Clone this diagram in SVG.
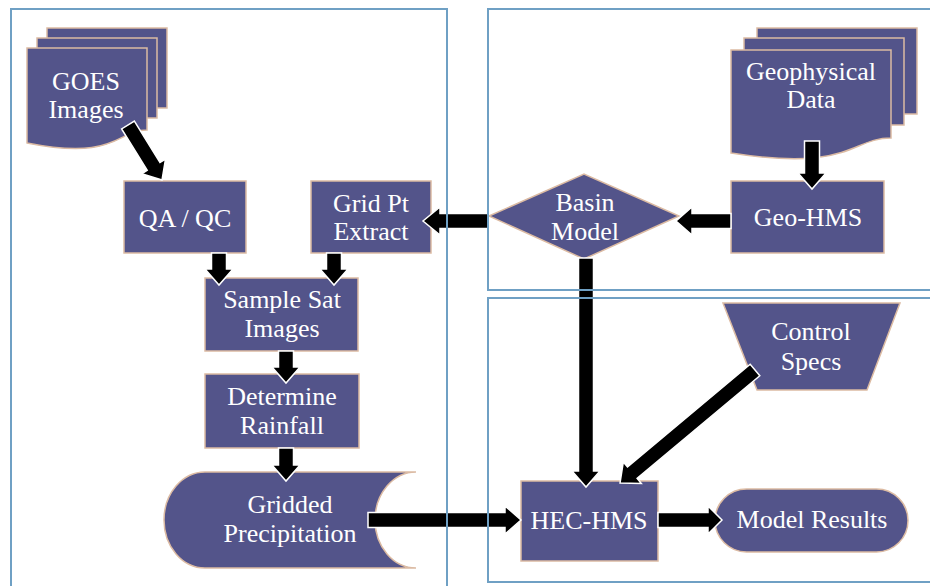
<svg xmlns="http://www.w3.org/2000/svg" width="930" height="586" viewBox="0 0 930 586">
<style>
.n{fill:#53548a;stroke:#dcbba3;stroke-width:1.5}
.t{font-family:"Liberation Serif","Times New Roman",serif;font-size:26px;fill:#ffffff;text-anchor:middle}
.a{fill:#000000;stroke:#ffffff;stroke-width:1.5;stroke-linejoin:miter}
.p{fill:none;stroke:#6fa0c4;stroke-width:2}
</style>
<rect width="930" height="586" fill="#ffffff"/>
<g id="goes">
<rect class="n" x="47" y="28" width="120" height="80"/>
<rect class="n" x="37" y="38" width="120" height="80"/>
<path class="n" d="M27,48 H147 V130 C117,130 117,161 27,143 Z"/>
<text class="t" x="86" y="90">GOES</text>
<text class="t" x="86" y="118">Images</text>
</g>
<g id="qaqc">
<rect class="n" x="124" y="181" width="122" height="72"/>
<text class="t" x="185" y="227">QA / QC</text>
</g>
<g id="gridpt">
<rect class="n" x="311" y="181" width="120" height="72"/>
<text class="t" x="371" y="212">Grid Pt</text>
<text class="t" x="371" y="240">Extract</text>
</g>
<g id="sample">
<rect class="n" x="205" y="278" width="153" height="73"/>
<text class="t" x="282" y="308">Sample Sat</text>
<text class="t" x="282" y="337">Images</text>
</g>
<g id="determine">
<rect class="n" x="205" y="374" width="154" height="74"/>
<text class="t" x="282" y="405">Determine</text>
<text class="t" x="282" y="434">Rainfall</text>
</g>
<g id="gridded">
<path class="n" d="M205,472 H416 A41,48 0 0 0 416,568 H205 A41,48 0 0 1 205,472 Z"/>
<text class="t" x="290" y="513">Gridded</text>
<text class="t" x="290" y="542">Precipitation</text>
</g>
<g id="geophysical">
<rect class="n" x="757" y="28" width="160" height="86"/>
<rect class="n" x="744" y="38" width="160" height="87"/>
<path class="n" d="M731,50 H891 V138 C851,138 851,172 731,153 Z"/>
<text class="t" x="811" y="80">Geophysical</text>
<text class="t" x="811" y="108">Data</text>
</g>
<g id="geohms">
<rect class="n" x="731" y="181" width="153" height="72"/>
<text class="t" x="808" y="226">Geo-HMS</text>
</g>
<g id="basin">
<path class="n" d="M489,216 L584,174 L679,216 L584,259 Z"/>
<text class="t" x="585" y="211">Basin</text>
<text class="t" x="585" y="240">Model</text>
</g>
<g id="control">
<path class="n" d="M723,303 H900 L867,390 H757 Z"/>
<text class="t" x="811" y="340">Control</text>
<text class="t" x="811" y="370">Specs</text>
</g>
<g id="hechms">
<rect class="n" x="521" y="481" width="137" height="80"/>
<text class="t" x="589" y="529">HEC-HMS</text>
</g>
<g id="results">
<rect class="n" x="715" y="489" width="193" height="63" rx="31.5" ry="31.5"/>
<text class="t" x="812" y="528">Model Results</text>
</g>
<g id="connectors">
<path class="a" transform="translate(128,125) rotate(58.3)" d="M0,-7.5 H48.7 V-14 L64.7,0 L48.7,14 V7.5 H0 Z"/>
<path class="a" d="M211.5,253 H226.5 V269 H233 L219,285 L205,269 H211.5 Z"/>
<path class="a" d="M326.5,253 H341.5 V269 H348 L334,285 L320,269 H326.5 Z"/>
<path class="a" d="M278.5,351 H293.5 V367 H300 L286,383 L272,367 H278.5 Z"/>
<path class="a" d="M278.5,448 H293.5 V465 H300 L286,481 L272,465 H278.5 Z"/>
<path class="a" d="M804.5,141 H819.5 V173 H826 L812,189 L798,173 H804.5 Z"/>
<path class="a" d="M578.5,258 H593.5 V471 H600 L586,487 L572,471 H578.5 Z"/>
<path class="a" d="M488,213.5 V228.5 H440 V235 L423,221 L440,207 V213.5 Z"/>
<path class="a" d="M731,213.5 V228.5 H692 V235 L676,221 L692,207 V213.5 Z"/>
<path class="a" d="M368,512.5 V527.5 H505 V534 L521,520 L505,506 V512.5 Z"/>
<path class="a" d="M658,512.5 V527.5 H708 V534 L722,520 L708,506 V512.5 Z"/>
<path class="a" transform="translate(755,370) rotate(140.07)" d="M0,-7.5 H160 V-14 L176,0 L160,14 V7.5 H0 Z"/>
</g>
<g id="panels">
<path class="p" d="M11,600 V9 H447 V600"/>
<path class="p" d="M940,9 H488 V290 H940"/>
<path class="p" d="M940,298 H488 V582 H940"/>
</g>
</svg>
